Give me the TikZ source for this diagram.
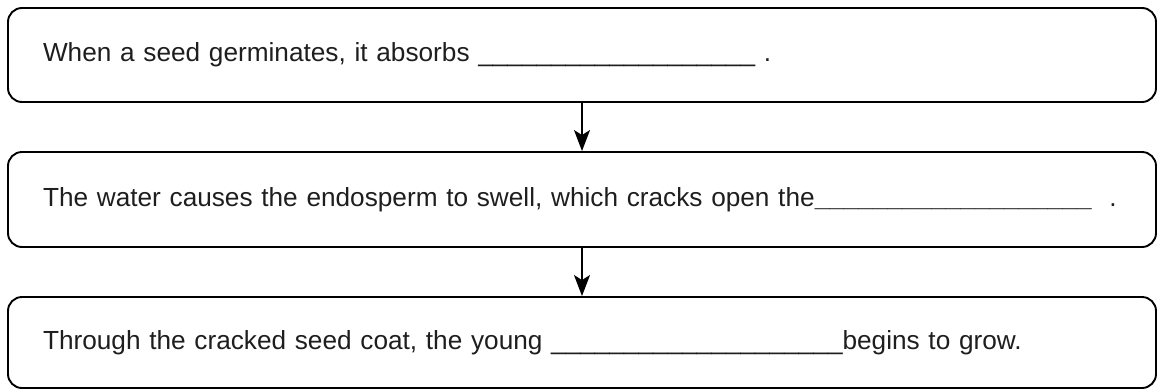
\documentclass[tikz,border=0pt]{standalone}
\usepackage{fontspec}
\setmainfont{Liberation Sans}
\usetikzlibrary{arrows.meta}
\definecolor{SheetText}{RGB}{30,30,30}
\newcommand{\blankline}[1]{\makebox[\linewidth][l]{#1}}

\begin{document}
\begin{tikzpicture}[x=1pt, y=-1pt]
  % Fill-in-the-blank flow (seed germination)
  \tikzset{
    blankbox/.style={draw=black, line width=1.9pt, rounded corners=14pt,
                     minimum width=1148pt, inner xsep=35pt, text width=1078pt,
                     align=left, font=\fontsize{26.2}{30}\selectfont, text=SheetText},
    flowarrow/.style={black, line width=1.7pt, -{Stealth[length=21pt, width=16pt, inset=5pt]}}
  }
  \useasboundingbox (0,0) rectangle (1157,389);

  % Boxes
  \node[blankbox, minimum height=94pt] (absorb) at (582,55)
    {\blankline{When a seed germinates, it absorbs \_\_\_\_\_\_\_\_\_\_\_\_\_\_\_\_\_\_\_ .}};
  \node[blankbox, minimum height=95pt] (swell) at (582,199.5)
    {\blankline{The water causes the endosperm to swell, which cracks open the\textbf{\_\_\_\_\_\_\_\_\_\_\_\_\_\_\_\_\_\_\_}\ \ .}};
  \node[blankbox, minimum height=91pt] (grow) at (582,342.5)
    {\blankline{Through the cracked seed coat, the young \_\_\_\_\_\_\_\_\_\_\_\_\_\_\_\_\_\_\_\_begins to grow.}};

  % Arrows
  \draw[flowarrow] (absorb) -- (swell);
  \draw[flowarrow] (swell) -- (grow);
\end{tikzpicture}
\end{document}
